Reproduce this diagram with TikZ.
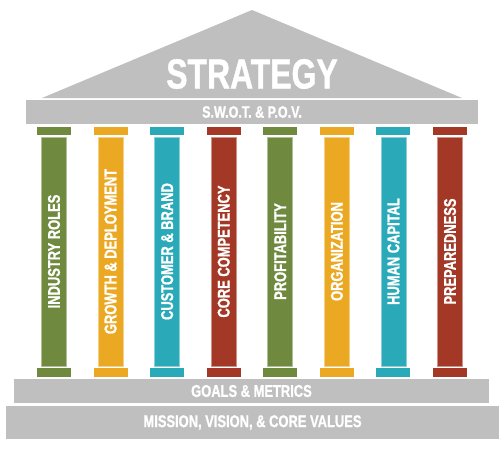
\documentclass[tikz,border=0pt]{standalone}
\usepackage{fontspec}
\setmainfont{Liberation Sans}[FakeStretch=0.76, BoldFeatures={FakeBold=1}]
\definecolor{roofgray}{HTML}{BFBFBF}
\definecolor{pgreen}{HTML}{6F8A3F}
\definecolor{pyellow}{HTML}{EBA923}
\definecolor{pteal}{HTML}{2AAAB9}
\definecolor{pred}{HTML}{A33826}
\tikzset{
  slab/.style={fill=roofgray, draw=none, inner sep=0pt, text=white, font=\bfseries},
  cap/.style={fill=#1, draw=none, minimum width=34pt, minimum height=8.5pt, inner sep=0pt},
  shaft/.style={fill=#1, draw=#1!55!white, line width=0.8pt, rotate=90, minimum width=229pt, minimum height=25pt, inner sep=0pt, text=white, font=\fontsize{17}{17}\selectfont\bfseries},
}
\begin{document}
\begin{tikzpicture}[x=1pt,y=-1pt]
\useasboundingbox (0,0) rectangle (504,450);
% roof
\fill[roofgray] (42,98) -- (252,10) -- (462,98) -- cycle;
\node[text=white, font=\fontsize{42}{42}\selectfont\bfseries, inner sep=0pt] (strategy) at (252,74) {STRATEGY};
\node[slab, minimum width=452pt, minimum height=24pt, font=\fontsize{16.5}{16.5}\selectfont\bfseries] (swot) at (252,112) {S.W.O.T. \& P.O.V.};
% pillars
\foreach \i/\c/\lbl in {0/pgreen/INDUSTRY ROLES, 1/pyellow/GROWTH \& DEPLOYMENT, 2/pteal/CUSTOMER \& BRAND, 3/pred/CORE COMPETENCY, 4/pgreen/PROFITABILITY, 5/pyellow/ORGANIZATION, 6/pteal/HUMAN CAPITAL, 7/pred/PREPAREDNESS}{
  \pgfmathsetmacro{\xx}{54+56.57*\i}
  \node[cap=\c] (top\i) at (\xx,131) {};
  \node[shaft=\c] (shaft\i) at (\xx,251.5) {\lbl};
  \node[cap=\c] (bot\i) at (\xx,372.5) {};
}
% base
\node[slab, minimum width=475pt, minimum height=24pt, font=\fontsize{17}{17}\selectfont\bfseries] (goals) at (251.5,391) {GOALS \& METRICS};
\node[slab, minimum width=493pt, minimum height=33pt, font=\fontsize{17}{17}\selectfont\bfseries] (mission) at (252.5,422.5) {MISSION, VISION, \& CORE VALUES};
\end{tikzpicture}
\end{document}
